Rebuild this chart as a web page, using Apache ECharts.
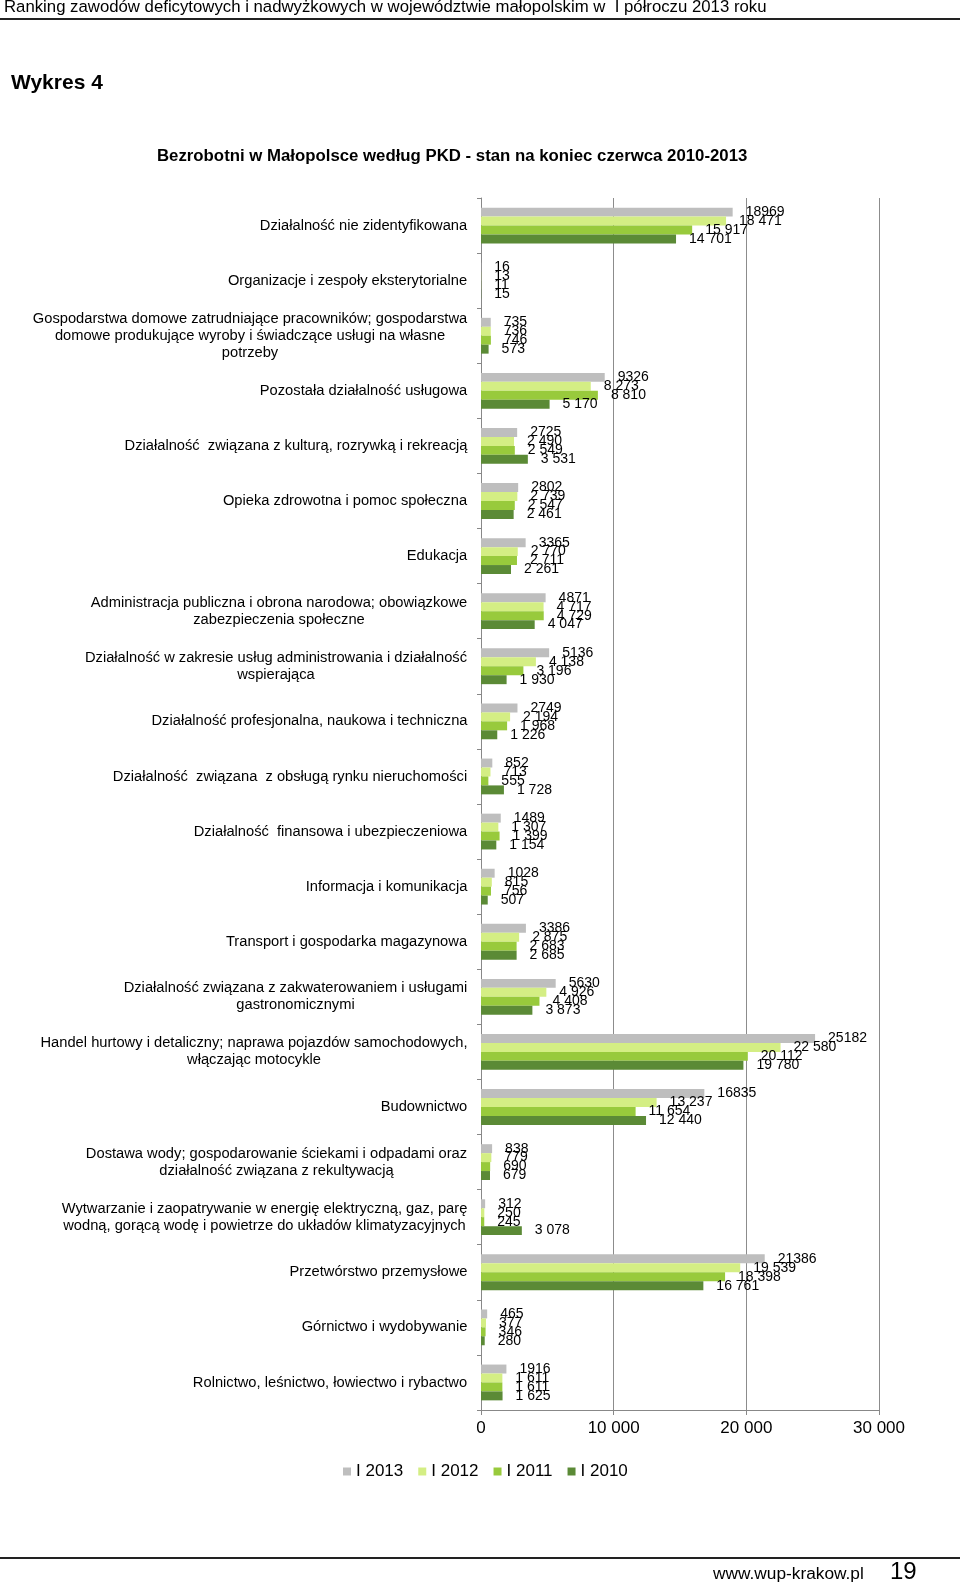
<!DOCTYPE html>
<html>
<head>
<meta charset="utf-8">
<script src="https://cdn.jsdelivr.net/npm/echarts@6/dist/echarts.min.js"></script>
<style>
html,body{margin:0;padding:0;background:#fff;}
#chart{width:960px;height:1589px;}
</style>
</head>
<body>
<div id="chart"></div>
<script>
const categories = [
  "Działalność nie zidentyfikowana",
  "Organizacje i zespoły eksterytorialne",
  "Gospodarstwa domowe zatrudniające pracowników; gospodarstwa\ndomowe produkujące wyroby i świadczące usługi na własne\npotrzeby",
  "Pozostała działalność usługowa",
  "Działalność  związana z kulturą, rozrywką i rekreacją",
  "Opieka zdrowotna i pomoc społeczna",
  "Edukacja",
  "Administracja publiczna i obrona narodowa; obowiązkowe\nzabezpieczenia społeczne",
  "Działalność w zakresie usług administrowania i działalność\nwspierająca",
  "Działalność profesjonalna, naukowa i techniczna",
  "Działalność  związana  z obsługą rynku nieruchomości",
  "Działalność  finansowa i ubezpieczeniowa",
  "Informacja i komunikacja",
  "Transport i gospodarka magazynowa",
  "Działalność związana z zakwaterowaniem i usługami\ngastronomicznymi",
  "Handel hurtowy i detaliczny; naprawa pojazdów samochodowych,\nwłączając motocykle",
  "Budownictwo",
  "Dostawa wody; gospodarowanie ściekami i odpadami oraz\ndziałalność związana z rekultywacją",
  "Wytwarzanie i zaopatrywanie w energię elektryczną, gaz, parę\nwodną, gorącą wodę i powietrze do układów klimatyzacyjnych",
  "Przetwórstwo przemysłowe",
  "Górnictwo i wydobywanie",
  "Rolnictwo, leśnictwo, łowiectwo i rybactwo"
];
const seriesNames = ["I 2013", "I 2012", "I 2011", "I 2010"];
const v2013 = [18969, 16, 735, 9326, 2725, 2802, 3365, 4871, 5136, 2749, 852, 1489, 1028, 3386, 5630, 25182, 16835, 838, 312, 21386, 465, 1916];
const v2012 = [18471, 13, 736, 8273, 2490, 2739, 2770, 4717, 4138, 2194, 713, 1307, 815, 2875, 4926, 22580, 13237, 779, 250, 19539, 377, 1611];
const v2011 = [15917, 11, 746, 8810, 2549, 2547, 2711, 4729, 3196, 1968, 555, 1399, 756, 2683, 4408, 20112, 11654, 690, 245, 18398, 346, 1611];
const v2010 = [14701, 15, 573, 5170, 3531, 2461, 2261, 4047, 1930, 1226, 1728, 1154, 507, 2685, 3873, 19780, 12440, 679, 3078, 16761, 280, 1625];
const xTicks = [0, 10000, 20000, 30000];

const FONT = '"Liberation Sans", Arial, sans-serif';
const colors = ['#BEBEBE', '#D4EE84', '#98CA3C', '#5B8A36'];

function spaced(v) {
  return String(v).replace(/\B(?=(\d{3})+(?!\d))/g, ' ');
}

// per-label rich styles so multi-line labels are centred as a block, block right-aligned
const CAT_FS = 14.7;
const ctx = document.createElement('canvas').getContext('2d');
ctx.font = CAT_FS + 'px ' + FONT;
const rich = {};
categories.forEach((c, i) => {
  const w = Math.max(...c.split('\n').map(l => ctx.measureText(l).width));
  rich['c' + i] = { width: Math.ceil(w) + 1, align: 'center', fontSize: CAT_FS, lineHeight: 17, fontFamily: FONT, color: '#000' };
});

const seriesData = [v2013, v2012, v2011, v2010];
const chart = echarts.init(document.getElementById('chart'), null, { renderer: 'canvas' });
chart.setOption({
  animation: false,
  backgroundColor: '#fff',
  textStyle: { fontFamily: FONT },
  title: [
    { text: 'Ranking zawodów deficytowych i nadwyżkowych w województwie małopolskim w  I półroczu 2013 roku', left: 4, top: -1, padding: 0,
      textStyle: { fontSize: 16.75, fontWeight: 'normal', color: '#000', fontFamily: FONT } },
    { text: 'Wykres 4', left: 11, top: 73, padding: 0,
      textStyle: { fontSize: 21, fontWeight: 'bold', color: '#000', fontFamily: FONT } },
    { text: 'Bezrobotni w Małopolsce według PKD - stan na koniec czerwca 2010-2013', left: 157, top: 148, padding: 0,
      textStyle: { fontSize: 16.8, fontWeight: 'bold', color: '#000', fontFamily: FONT } },
    { text: 'www.wup-krakow.pl', left: 713, top: 1566, padding: 0,
      textStyle: { fontSize: 17.3, fontWeight: 'normal', color: '#000', fontFamily: FONT } },
    { text: '19', left: 890, top: 1560, padding: 0,
      textStyle: { fontSize: 24, fontWeight: 'normal', color: '#000', fontFamily: FONT } }
  ],
  graphic: [
    { type: 'line', shape: { x1: 0, y1: 19, x2: 960, y2: 19 }, style: { stroke: '#222', lineWidth: 2 } },
    { type: 'line', shape: { x1: 0, y1: 1558, x2: 960, y2: 1558 }, style: { stroke: '#222', lineWidth: 2 } }
  ],
  legend: {
    data: seriesNames,
    left: 343, top: 1463, padding: 0,
    icon: 'rect', itemWidth: 8, itemHeight: 8, itemGap: 15,
    textStyle: { fontSize: 17, color: '#000', fontFamily: FONT }
  },
  grid: { left: 481, right: 81, top: 198, bottom: 179, containLabel: false },
  xAxis: {
    type: 'value', min: 0, max: 30000, interval: 10000,
    axisLine: { show: true, lineStyle: { color: '#888', width: 1 } },
    axisTick: { show: true, length: 5, lineStyle: { color: '#888' } },
    splitLine: { show: true, lineStyle: { color: '#8c8c8c', width: 1 } },
    axisLabel: { fontSize: 17, color: '#000', margin: 10, fontFamily: FONT,
      formatter: v => xTicks.includes(v) ? spaced(v) : '' }
  },
  yAxis: {
    type: 'category', inverse: true, data: categories,
    axisLine: { show: true, lineStyle: { color: '#888', width: 1 } },
    axisTick: { show: true, length: 4, lineStyle: { color: '#888' } },
    axisLabel: { margin: 13, interval: 0, rich: rich,
      formatter: (v, i) => '{c' + i + '|' + v + '}' }
  },
  series: seriesNames.map((n, k) => ({
    name: n, type: 'bar', data: seriesData[k],
    barGap: '0%', barCategoryGap: '35%',
    itemStyle: { color: colors[k] },
    label: { show: true, position: 'right', distance: 13, fontSize: 14, color: '#000', fontFamily: FONT,
      formatter: p => k === 0 ? String(p.value) : spaced(p.value) }
  }))
});
</script>
</body>
</html>
